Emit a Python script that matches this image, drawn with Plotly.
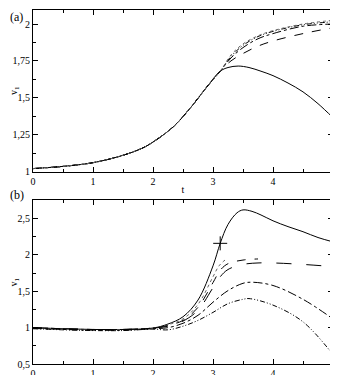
import plotly.graph_objects as go
from plotly.subplots import make_subplots

# panel (a): common rise, then the curves split after t ~ 3.1
ta_common = [0, 0.5, 1, 1.5, 1.83, 2, 2.33, 2.62, 2.9, 3.12]
va_common = [1.02, 1.035, 1.06, 1.11, 1.16, 1.2, 1.30, 1.43, 1.575, 1.68]

ta_tail = [3.25, 3.42, 3.6, 3.8, 4.0, 4.25, 4.5, 4.75, 5.0]
va_solid = [1.705, 1.715, 1.705, 1.68, 1.65, 1.60, 1.54, 1.46, 1.365]

ta_tail2 = [3.3, 3.5, 3.75, 4.0, 4.5, 5.0]
va_dash = [1.75, 1.80, 1.85, 1.885, 1.935, 1.975]
va_dashdot = [1.77, 1.84, 1.90, 1.935, 1.985, 2.0]
va_dashdotdot = [1.78, 1.855, 1.915, 1.95, 1.995, 2.015]
va_dot = [1.79, 1.865, 1.92, 1.955, 2.0, 2.025]

# panel (b)
tb_early = [0, 0.5, 1, 1.5, 2]
vb_early = [1.0, 0.985, 0.975, 0.975, 0.995]

tb_solid = [2.25, 2.5, 2.75, 3.0, 3.12, 3.25, 3.4, 3.5, 3.65, 3.8, 4.0, 4.25, 4.5, 4.75, 5.0]
vb_solid = [1.05, 1.15, 1.38, 1.85, 2.16, 2.42, 2.58, 2.62, 2.60, 2.55, 2.47, 2.39, 2.32, 2.24, 2.18]

tb_dot = [2.25, 2.5, 2.75, 3.0, 3.1, 3.2]
vb_dot = [1.04, 1.12, 1.32, 1.70, 1.85, 1.93]

tb_dash_short = [2.25, 2.5, 2.75, 3.0, 3.12, 3.25, 3.5, 3.75]
vb_dash_short = [1.03, 1.10, 1.28, 1.62, 1.79, 1.88, 1.93, 1.945]

tb_dash_long = [2.25, 2.5, 2.75, 3.0, 3.12, 3.25, 3.5, 3.75, 4.0, 4.5, 5.0]
vb_dash_long = [1.02, 1.09, 1.24, 1.55, 1.70, 1.80, 1.87, 1.89, 1.89, 1.87, 1.84]

tb_dashdot = [2.25, 2.5, 2.75, 3.0, 3.25, 3.5, 3.65, 4.0, 4.5, 5.0]
vb_dashdot = [1.0, 1.06, 1.17, 1.35, 1.51, 1.61, 1.625, 1.58, 1.39, 1.12]

tb_dashdotdot = [2.25, 2.5, 2.75, 3.0, 3.25, 3.5, 3.6, 4.0, 4.5, 5.0]
vb_dashdotdot = [0.97, 1.02, 1.10, 1.21, 1.33, 1.39, 1.40, 1.31, 1.08, 0.63]

marker_t = [3.12]
marker_v = [2.16]

xticks = [0, 1, 2, 3, 4, 5]
ya_ticks = [1, 1.25, 1.5, 1.75, 2]
ya_labels = ["1", "1,25", "1,5", "1,75", "2"]
yb_ticks = [0.5, 1, 1.5, 2, 2.5]
yb_labels = ["0,5", "1", "1,5", "2", "2,5"]

DDD = "5px,2px,1px,2px,1px,2px"

fig = make_subplots(rows=2, cols=1, vertical_spacing=0.08)


def line(x, y, dash, row, color="black"):
    fig.add_trace(
        go.Scatter(
            x=x, y=y, mode="lines", line=dict(color=color, width=1, dash=dash, shape="spline"),
            showlegend=False, hoverinfo="skip",
        ),
        row=row, col=1,
    )


line(ta_common + ta_tail, va_common + va_solid, "solid", 1)
line(ta_common + ta_tail2, va_common + va_dash, "dash", 1)
line(ta_common + ta_tail2, va_common + va_dashdot, "dashdot", 1)
line(ta_common + ta_tail2, va_common + va_dashdotdot, DDD, 1)
line(ta_common + ta_tail2, va_common + va_dot, "dot", 1, "#666")

line(tb_early + tb_solid, vb_early + vb_solid, "solid", 2)
line(tb_early + tb_dot, vb_early + vb_dot, "dot", 2, "#666")
line(tb_early + tb_dash_short, vb_early + vb_dash_short, "dash", 2)
line(tb_early + tb_dash_long, vb_early + vb_dash_long, "longdash", 2)
line(tb_early + tb_dashdot, [v - 0.01 for v in vb_early] + vb_dashdot, "dashdot", 2)
line(tb_early + tb_dashdotdot, [v - 0.015 for v in vb_early] + vb_dashdotdot, DDD, 2)

fig.add_trace(
    go.Scatter(x=marker_t, y=marker_v, mode="markers",
               marker=dict(symbol="cross-thin", size=10, line=dict(color="black", width=1)),
               showlegend=False, hoverinfo="skip"),
    row=2, col=1,
)

font = dict(family="Liberation Serif", size=10, color="black")
axis_common = dict(
    showline=True, linecolor="black", linewidth=1, mirror="ticks",
    ticks="inside", ticklen=5, tickcolor="black", showgrid=False, zeroline=False,
    tickfont=font, automargin=False, ticklabeloverflow="allow",
)

fig.update_xaxes(range=[0, 5], tickvals=xticks,
                 minor=dict(ticks="inside", dtick=0.5, ticklen=3, tickcolor="black"),
                 **axis_common)
fig.update_yaxes(range=[1, 2.095], tickvals=ya_ticks, ticktext=ya_labels,
                 minor=dict(ticks="inside", dtick=0.125, tick0=1, ticklen=3, tickcolor="black"),
                 title=dict(text="v<sub>1</sub>", font=font, standoff=6),
                 row=1, col=1, **axis_common)
fig.update_yaxes(range=[0.5, 2.75], tickvals=yb_ticks, ticktext=yb_labels,
                 minor=dict(ticks="inside", dtick=0.25, tick0=0.5, ticklen=3, tickcolor="black"),
                 title=dict(text="v<sub>1</sub>", font=font, standoff=6),
                 row=2, col=1, **axis_common)
fig.update_xaxes(title=dict(text="t", font=font, standoff=0), row=1, col=1)

# the page body has an 8px margin, so the figure is sized to the visible part
fig.update_layout(
    width=330, height=367,
    margin=dict(l=25, r=5, t=2, b=11),
    paper_bgcolor="white", plot_bgcolor="white",
    font=font,
    yaxis=dict(domain=[0.5437, 1]),
    yaxis2=dict(domain=[0, 0.462]),
)
fig.add_annotation(text="(a)", xref="paper", yref="paper", x=-25 / 300, y=356 / 354,
                   xanchor="left", yanchor="top", showarrow=False,
                   font=dict(family="Liberation Serif", size=12, color="black"))
fig.add_annotation(text="(b)", xref="paper", yref="paper", x=-25 / 300, y=(356 - 187) / 354,
                   xanchor="left", yanchor="middle", showarrow=False,
                   font=dict(family="Liberation Serif", size=12, color="black"))

fig.write_html("out.html")
